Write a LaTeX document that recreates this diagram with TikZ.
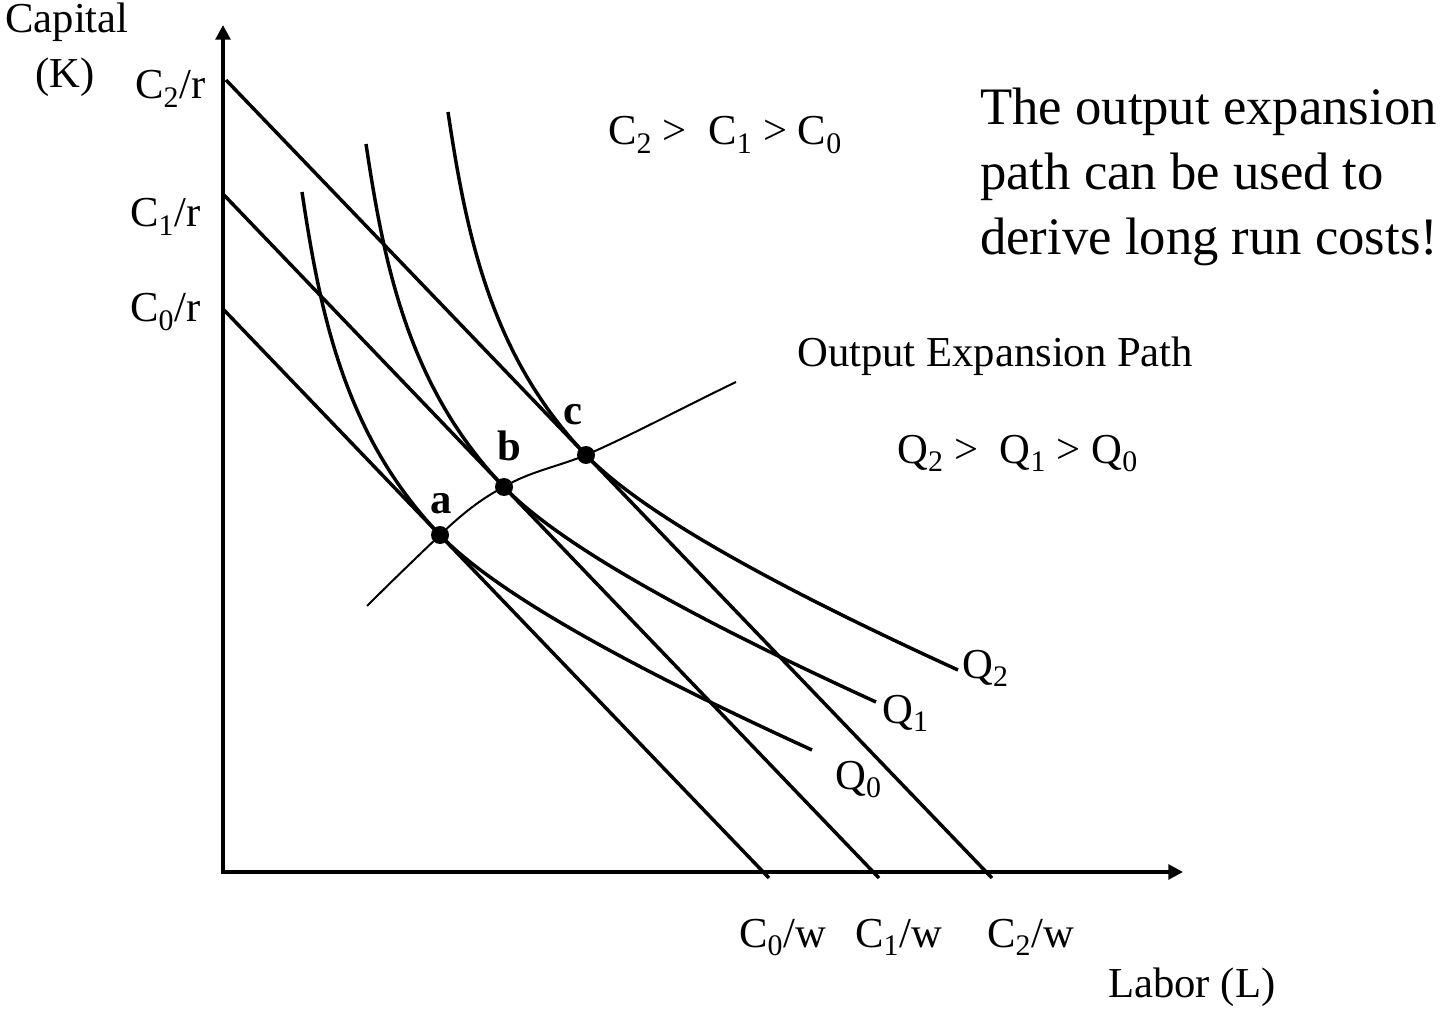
\documentclass[tikz,border=0pt]{standalone}
\usepackage{fontspec}
\setmainfont{Liberation Serif}
\usetikzlibrary{arrows.meta}
\begin{document}
\begin{tikzpicture}[x=0.75pt,y=-0.75pt,
  lbl/.style={inner sep=0pt, anchor=base west, font=\fontsize{32}{36}\selectfont},
  big/.style={inner sep=0pt, anchor=base west, font=\fontsize{39.5}{47}\selectfont},
  axisline/.style={line width=3.6pt, line join=miter,
    {Triangle[length=11pt,width=11pt]}-{Triangle[length=11pt,width=11pt]}},
  budget/.style={line width=2.6pt},
  iso/.style={line width=2.6pt},
  exppath/.style={line width=1.5pt},
  dot/.style={circle, fill=black, inner sep=0pt, minimum size=13.5pt}]
\useasboundingbox (0,0) rectangle (1442,1012);
% axes
\coordinate (ytip) at (223,25);
\coordinate (O) at (223,872);
\coordinate (xtip) at (1183,872);
\draw[axisline] (ytip) -- (O) -- (xtip);
% tangency points
\coordinate (T0) at (440,535);
\coordinate (T1) at (504,487);
\coordinate (T2) at (586,455);
% budget lines
\coordinate (c0r) at (223,309);
\coordinate (c0w) at (769,878);
\coordinate (c1r) at (223,194);
\coordinate (c1w) at (879,878);
\coordinate (c2r) at (226,80);
\coordinate (c2w) at (992,878);
\draw[budget] (c0r) -- (c0w);
\draw[budget] (c1r) -- (c1w);
\draw[budget] (c2r) -- (c2w);
% isoquants
\foreach \t in {T0,T1,T2}{
  \draw[iso, shift={(\t)}] (-138,-343) .. controls (-120,-223) and (-96,-100) .. (0,0)
     .. controls (69,72) and (254,161) .. (372,215);
}
% expansion path
\coordinate (ep0) at (367,606);
\coordinate (ep1) at (736,382);
\draw[exppath] (ep0) .. controls (392,581) and (417,557) .. (T0)
  .. controls (462,514) and (482,498) .. (T1)
  .. controls (528,472) and (560,466) .. (T2)
  .. controls (630,436) and (690,404) .. (ep1);
% dots
\node[dot] (a) at (T0) {};
\node[dot] (b) at (T1) {};
\node[dot] (c) at (T2) {};
\node[lbl, font=\fontsize{32}{36}\selectfont\bfseries] (la) at (430,513) {a};
\node[lbl, font=\fontsize{32}{36}\selectfont\bfseries] (lb) at (497,460) {b};
\node[lbl, font=\fontsize{32}{36}\selectfont\bfseries] (lc) at (563,425) {c};
% axis labels
\node[lbl] (capital) at (5,33) {Capital};
\node[lbl] (kk) at (35,88) {(K)};
\node[lbl] (labor) at (1108,997) {Labor (L)};
\node[lbl] (C2r) at (135,99) {C\textsubscript{2}/r};
\node[lbl] (C1r) at (130,227) {C\textsubscript{1}/r};
\node[lbl] (C0r) at (130,322) {C\textsubscript{0}/r};
\node[lbl] (C0w) at (739,947) {C\textsubscript{0}/w};
\node[lbl] (C1w) at (855,947) {C\textsubscript{1}/w};
\node[lbl] (C2w) at (987,947) {C\textsubscript{2}/w};
% curve labels
\node[lbl] (Q2) at (962,678) {Q\textsubscript{2}};
\node[lbl] (Q1) at (882,723) {Q\textsubscript{1}};
\node[lbl] (Q0) at (835,789) {Q\textsubscript{0}};
% annotations
\node[lbl] (corder) at (608,145) {C\textsubscript{2} >\ \ C\textsubscript{1} > C\textsubscript{0}};
\node[lbl] (qorder) at (897,463) {Q\textsubscript{2} >\ \ Q\textsubscript{1} > Q\textsubscript{0}};
\node[lbl] (oep) at (797,367) {Output Expansion Path};
\node[big] (t1) at (980,125) {The output expansion};
\node[big] (t2) at (980,190) {path can be used to};
\node[big] (t3) at (980,255) {derive long run costs!};
\end{tikzpicture}
\end{document}
